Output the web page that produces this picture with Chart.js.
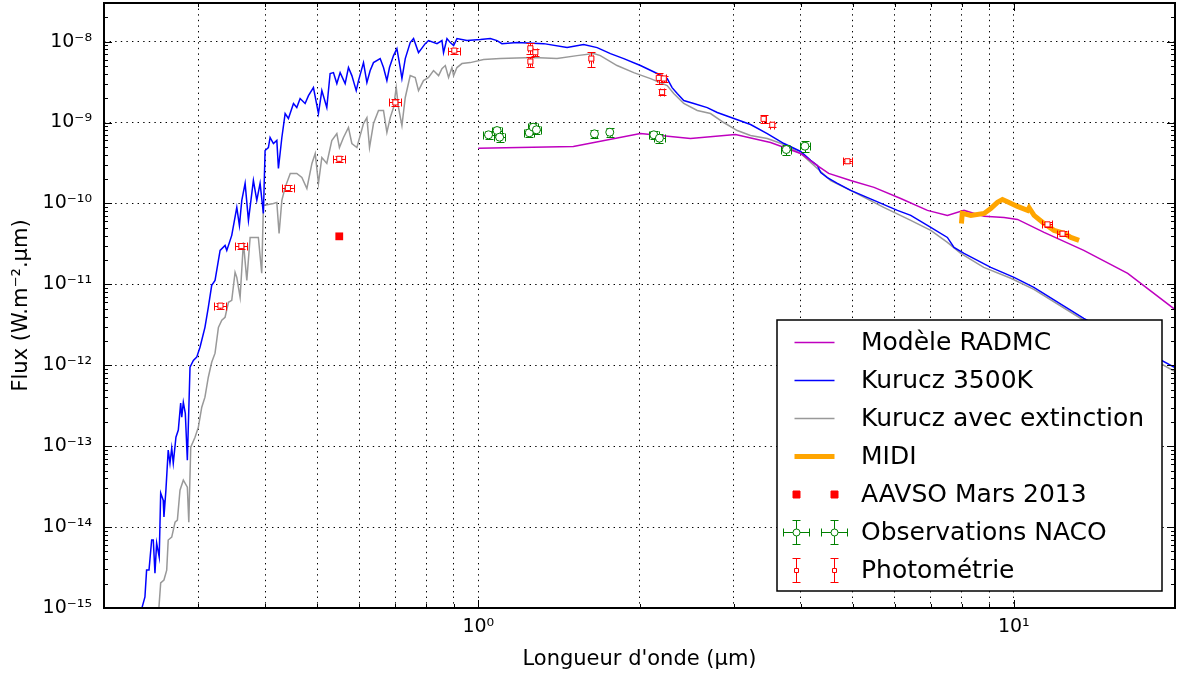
<!DOCTYPE html>
<html>
<head>
<meta charset="utf-8">
<script src="https://cdn.jsdelivr.net/npm/chart.js@4/dist/chart.umd.min.js"></script>
<style>
  html, body { margin: 0; padding: 0; background: #fff; }
</style>
</head>
<body>
<canvas id="sed" width="1177" height="675"></canvas>
<script>
// Kurucz 3500K (microns, W.m-2.um)
const kuruczLambda = [0.2335, 0.2385, 0.2402, 0.2427, 0.2455, 0.2472, 0.2490, 0.2508, 0.2536, 0.2552,
  0.2580, 0.2588, 0.2610, 0.2636, 0.2656, 0.2676, 0.2694, 0.2725, 0.2753, 0.2781,
  0.2794, 0.2813, 0.2837, 0.2862, 0.2895, 0.2937, 0.2980, 0.3022, 0.3087, 0.3132,
  0.3178, 0.3224, 0.3271, 0.3295, 0.3366, 0.3391, 0.3464, 0.3540, 0.3580, 0.3617,
  0.3669, 0.3722, 0.3802, 0.3858, 0.3913, 0.3969, 0.3998, 0.4055, 0.4085, 0.4144,
  0.4205, 0.4234, 0.4297, 0.4358, 0.4420, 0.4517, 0.4582, 0.4648, 0.4749, 0.4818,
  0.4922, 0.5029, 0.5103, 0.5213, 0.5288, 0.5364, 0.5443, 0.5521, 0.5641, 0.5722,
  0.5806, 0.5916, 0.5975, 0.6104, 0.6194, 0.6282, 0.6372, 0.6558, 0.6652, 0.6750,
  0.6826, 0.6945, 0.7047, 0.7148, 0.7201, 0.7305, 0.7462, 0.7570, 0.7733, 0.7960,
  0.8074, 0.8372, 0.8553, 0.8612, 0.8740, 0.8865, 0.8993, 0.9124, 0.9525, 1.009,
  1.053, 1.084, 1.107, 1.181, 1.325, 1.465, 1.573, 1.667, 1.765, 1.869,
  2.008, 2.158, 2.253, 2.301, 2.352, 2.419, 2.526, 2.676, 2.794, 3.001,
  3.224, 3.464, 3.722, 3.999, 4.175, 4.297, 4.359, 4.486, 4.683, 4.958,
  5.483, 6.062, 6.420, 6.997, 7.516, 7.733, 8.073, 9.057, 10.01, 10.90,
  13.51, 20.09];
const kuruczFlux = [8.2e-16, 1.37e-15, 2.94e-15, 2.94e-15, 6.92e-15, 6.92e-15, 2.70e-15, 6.34e-15, 4.26e-15, 2.63e-14,
  2.15e-14, 1.33e-14, 2.86e-14, 8.93e-14, 6.17e-14, 9.44e-14, 6.17e-14, 1.29e-13, 1.58e-13, 3.40e-13,
  2.28e-13, 3.49e-13, 2.55e-13, 6.71e-14, 9.44e-13, 1.15e-12, 1.26e-12, 1.67e-12, 2.94e-12, 5.20e-12,
  9.72e-12, 1.12e-11, 1.98e-11, 2.63e-11, 3.03e-11, 2.63e-11, 4.03e-11, 8.93e-11, 5.35e-11, 1.09e-10,
  1.77e-10, 6.17e-11, 1.92e-10, 1.09e-10, 1.77e-10, 7.53e-11, 4.51e-10, 4.91e-10, 6.53e-10, 5.50e-10,
  6.00e-10, 2.70e-10, 6.53e-10, 1.29e-9, 1.12e-9, 1.72e-9, 1.53e-9, 1.98e-9, 1.72e-9, 2.15e-9,
  2.70e-9, 1.29e-9, 2.48e-9, 1.53e-9, 4.03e-9, 4.14e-9, 3.03e-9, 4.14e-9, 3.03e-9, 4.78e-9,
  3.80e-9, 2.48e-9, 3.30e-9, 5.50e-9, 3.12e-9, 4.39e-9, 5.50e-9, 6.17e-9, 4.78e-9, 3.30e-9,
  4.78e-9, 6.71e-9, 8.20e-9, 4.78e-9, 3.49e-9, 6.17e-9, 9.72e-9, 1.09e-8, 7.31e-9, 9.44e-9,
  1.03e-8, 9.44e-9, 1.03e-8, 7.31e-9, 1.09e-8, 9.72e-9, 8.93e-9, 1.09e-8, 1.03e-8, 1.06e-8,
  1.09e-8, 1.03e-8, 9.44e-9, 9.72e-9, 9.44e-9, 8.43e-9, 9.18e-9, 8.43e-9, 7.11e-9, 6.17e-9,
  5.06e-9, 4.03e-9, 3.49e-9, 2.70e-9, 2.28e-9, 1.87e-9, 1.72e-9, 1.53e-9, 1.33e-9, 1.12e-9,
  9.44e-10, 7.31e-10, 5.50e-10, 4.39e-10, 3.40e-10, 2.94e-10, 2.41e-10, 2.09e-10, 1.77e-10, 1.45e-10,
  1.09e-10, 8.20e-11, 7.11e-11, 5.06e-11, 3.80e-11, 2.86e-11, 2.41e-11, 1.62e-11, 1.22e-11, 9.18e-12,
  3.80e-12, 9.18e-13];

// Kurucz avec extinction
const extLambda = [0.2527, 0.2552, 0.2588, 0.2619, 0.2636, 0.2676, 0.2715, 0.2742, 0.2773, 0.2813,
  0.2862, 0.2880, 0.2904, 0.2958, 0.3001, 0.3045, 0.3087, 0.3132, 0.3178, 0.3224,
  0.3271, 0.3319, 0.3366, 0.3415, 0.3464, 0.3514, 0.3540, 0.3591, 0.3642, 0.3696,
  0.3749, 0.3884, 0.3941, 0.3969, 0.4144, 0.4205, 0.4246, 0.4297, 0.4358, 0.4455,
  0.4582, 0.4683, 0.4785, 0.4890, 0.4960, 0.5029, 0.5103, 0.5213, 0.5326, 0.5443,
  0.5504, 0.5601, 0.5722, 0.5806, 0.5933, 0.6104, 0.6194, 0.6264, 0.6372, 0.6511,
  0.6652, 0.6750, 0.6848, 0.6945, 0.7026, 0.7096, 0.7201, 0.7305, 0.7462, 0.7624,
  0.7733, 0.7901, 0.8074, 0.8249, 0.8430, 0.8553, 0.8677, 0.8800, 0.8929, 0.8993,
  0.9124, 0.9322, 0.9661, 1.023, 1.099, 1.267, 1.403, 1.529, 1.643, 1.690,
  1.816, 1.951, 2.097, 2.253, 2.317, 2.419, 2.564, 2.714, 2.873, 3.045,
  3.224, 3.464, 3.722, 3.999, 4.297, 4.550, 4.958, 5.715, 6.420, 6.997,
  7.516, 7.960, 8.788, 9.872, 10.90, 13.51, 20.09];
const extFlux = [8.2e-16, 2.04e-15, 2.22e-15, 2.94e-15, 6.92e-15, 7.53e-15, 1.15e-14, 1.22e-14, 2.86e-14, 3.80e-14,
  3.12e-14, 1.15e-14, 9.72e-14, 1.29e-13, 1.72e-13, 3.03e-13, 4.03e-13, 7.11e-13, 1.09e-12, 1.41e-12,
  2.94e-12, 3.60e-12, 3.92e-12, 6.00e-12, 6.34e-12, 1.41e-11, 1.22e-11, 6.92e-12, 3.30e-11, 1.12e-11,
  3.80e-11, 3.80e-11, 1.37e-11, 9.44e-11, 1.00e-10, 1.03e-10, 4.26e-11, 1.09e-10, 1.58e-10, 2.35e-10,
  2.35e-10, 2.09e-10, 1.53e-10, 3.12e-10, 4.14e-10, 1.77e-10, 3.70e-10, 3.12e-10, 6.00e-10, 7.31e-10,
  4.91e-10, 6.53e-10, 8.67e-10, 5.50e-10, 4.91e-10, 9.72e-10, 1.15e-9, 4.91e-10, 9.72e-10, 1.41e-9,
  1.41e-9, 7.53e-10, 1.15e-9, 1.53e-9, 2.70e-9, 1.53e-9, 9.18e-10, 2.04e-9, 3.80e-9, 3.60e-9,
  2.48e-9, 3.30e-9, 3.60e-9, 4.39e-9, 3.80e-9, 4.64e-9, 5.06e-9, 3.60e-9, 4.78e-9, 3.80e-9,
  4.78e-9, 5.35e-9, 5.50e-9, 6.00e-9, 6.17e-9, 6.34e-9, 6.17e-9, 6.71e-9, 7.11e-9, 6.71e-9,
  5.06e-9, 4.14e-9, 3.49e-9, 2.86e-9, 2.28e-9, 1.72e-9, 1.41e-9, 1.29e-9, 1.00e-9, 7.96e-10,
  6.92e-10, 6.34e-10, 5.35e-10, 4.14e-10, 2.70e-10, 1.92e-10, 1.45e-10, 8.93e-11, 6.17e-11, 4.64e-11,
  3.30e-11, 2.41e-11, 1.62e-11, 1.19e-11, 8.67e-12, 3.60e-12, 8.20e-13];

// Modele RADMC
const radmcLambda = [1.0, 1.505, 2.008, 2.490, 3.022, 3.514, 3.999, 4.297, 4.511, 4.958, 5.483,
  6.149, 6.898, 7.516, 8.073, 8.801, 9.592, 10.16, 11.39, 13.51, 16.32, 20.09];
const radmcFlux = [4.8e-10, 5.06e-10, 7.31e-10, 6.34e-10, 7.11e-10, 5.66e-10, 4.14e-10, 2.94e-10, 2.35e-10, 1.92e-10, 1.58e-10,
  1.15e-10, 8.2e-11, 7.11e-11, 8.2e-11, 6.92e-11, 6.72e-11, 6.34e-11, 4.39e-11, 2.63e-11, 1.37e-11, 4.78e-12];

// MIDI
const midiLambda = [7.984, 8.012, 8.313, 8.801, 9.057, 9.323, 9.526, 9.799, 10.16, 10.61, 10.68,
  10.91, 11.39, 11.89, 12.42, 12.78, 13.24];
const midiFlux = [5.66e-11, 7.53e-11, 7.11e-11, 7.53e-11, 8.67e-11, 1.03e-10, 1.12e-10, 1.03e-10, 9.18e-11, 8.2e-11, 8.85e-11,
  7.11e-11, 5.66e-11, 4.64e-11, 4.26e-11, 3.80e-11, 3.49e-11];

// AAVSO Mars 2013
const aavsoLambda = [0.550];
const aavsoFlux = [3.92e-11];

// Observations NACO
const nacoLambda = [1.045, 1.084, 1.096, 1.245, 1.266, 1.284, 1.648, 1.760, 2.127, 2.179, 3.760, 4.073];
const nacoFlux = [7.05e-10, 7.96e-10, 6.59e-10, 7.46e-10, 8.75e-10, 8.13e-10, 7.25e-10, 7.59e-10, 7.05e-10, 6.40e-10, 4.64e-10, 5.10e-10];
const nacoFluxErr = [0.85e-10, 0.95e-10, 0.8e-10, 0.9e-10, 1.05e-10, 1.0e-10, 0.9e-10, 0.9e-10, 0.85e-10, 0.8e-10, 0.7e-10, 0.75e-10];
const nacoLambdaErr = [0.023, 0.024, 0.024, 0.027, 0.028, 0.028, 0.02, 0.02, 0.047, 0.048, 0.083, 0.09];

// Photometrie
const photLambda = [0.330, 0.361, 0.441, 0.550, 0.700, 0.902, 1.251, 1.278, 1.251, 1.626,
  2.173, 2.220, 2.204, 3.410, 3.540, 4.890, 11.56, 12.33];
const photFlux = [5.46e-12, 2.97e-11, 1.55e-10, 3.56e-10, 1.77e-9, 7.74e-9, 8.27e-9, 7.38e-9, 5.67e-9, 6.17e-9,
  3.56e-9, 3.50e-9, 2.37e-9, 1.11e-9, 9.37e-10, 3.32e-10, 5.51e-11, 4.23e-11];
const photFluxErr = [0.49e-12, 2.7e-12, 1.4e-11, 3.2e-11, 1.6e-10, 7.0e-10, 1.25e-9, 0.66e-9, 0.85e-9, 1.35e-9,
  0.53e-9, 0.3e-9, 0.2e-9, 0.13e-9, 0.5e-10, 0.2e-10, 0.35e-11, 0.27e-11];
const photLambdaErr = [0.0086, 0.0094, 0.0115, 0.0143, 0.0182, 0.0235, 0.011, 0.011, 0.011, 0.015,
  0.02, 0.02, 0.02, 0.03, 0.032, 0.1, 0.25, 0.27];

const toPoints = (xs, ys) => xs.map((x, i) => ({x: x, y: ys[i]}));

const SUP = {'-': '\u207B', '0': '\u2070', '1': '\u00B9', '2': '\u00B2', '3': '\u00B3', '4': '\u2074',
  '5': '\u2075', '6': '\u2076', '7': '\u2077', '8': '\u2078', '9': '\u2079'};
function isDecade(v) {
  const l = Math.log10(v);
  return Math.abs(l - Math.round(l)) < 1e-6;
}
function powLabel(v) {
  const e = String(Math.round(Math.log10(v)));
  return '10' + e.split('').map(ch => SUP[ch]).join('');
}
function logTicks(min, max) {
  const out = [];
  for (let e = Math.floor(Math.log10(min)); e <= Math.ceil(Math.log10(max)); e++) {
    for (let m = 1; m < 10; m++) {
      const v = m * Math.pow(10, e);
      if (v >= min * 0.999 && v <= max * 1.001) out.push({value: v});
    }
  }
  return out;
}
const snap = v => Math.round(v) + 0.5;

// error bars drawn under the markers
const errorBars = {
  id: 'errorBars',
  beforeDatasetDraw(chart, args) {
    const ds = chart.data.datasets[args.index];
    if (!ds.errY && !ds.errX) return;
    const xs = chart.scales.x, ys = chart.scales.y, c = chart.ctx;
    const cap = ds.capSize;
    c.save();
    c.strokeStyle = ds.borderColor;
    c.lineWidth = 1;
    c.beginPath();
    ds.data.forEach((p, i) => {
      const px = snap(xs.getPixelForValue(p.x)), py = snap(ys.getPixelForValue(p.y));
      if (ds.errY) {
        const y0 = snap(ys.getPixelForValue(p.y - ds.errY[i])), y1 = snap(ys.getPixelForValue(p.y + ds.errY[i]));
        c.moveTo(px, y0); c.lineTo(px, y1);
        c.moveTo(px - cap, y0); c.lineTo(px + cap, y0);
        c.moveTo(px - cap, y1); c.lineTo(px + cap, y1);
      }
      if (ds.errX) {
        const x0 = snap(xs.getPixelForValue(p.x - ds.errX[i])), x1 = snap(xs.getPixelForValue(p.x + ds.errX[i]));
        c.moveTo(x0, py); c.lineTo(x1, py);
        c.moveTo(x0, py - cap); c.lineTo(x0, py + cap);
        c.moveTo(x1, py - cap); c.lineTo(x1, py + cap);
      }
    });
    c.stroke();
    c.restore();
  }
};

// frame with inward ticks on all four sides
const frame = {
  id: 'frame',
  afterDraw(chart) {
    const a = chart.chartArea, c = chart.ctx;
    c.save();
    c.strokeStyle = '#000';
    c.lineWidth = 1;
    c.beginPath();
    chart.scales.x.ticks.forEach(t => {
      const px = snap(chart.scales.x.getPixelForValue(t.value));
      const len = isDecade(t.value) ? 8 : 4;
      c.moveTo(px, a.bottom); c.lineTo(px, a.bottom - len);
      c.moveTo(px, a.top); c.lineTo(px, a.top + len);
    });
    chart.scales.y.ticks.forEach(t => {
      const py = snap(chart.scales.y.getPixelForValue(t.value));
      const len = isDecade(t.value) ? 8 : 4;
      c.moveTo(a.left, py); c.lineTo(a.left + len, py);
      c.moveTo(a.right, py); c.lineTo(a.right - len, py);
    });
    c.stroke();
    c.lineWidth = 2;
    c.strokeRect(a.left, a.top, a.right - a.left, a.bottom - a.top);
    c.restore();
  }
};

// legend box inside the plot, lower right
const boxLegend = {
  id: 'boxLegend',
  afterDraw(chart) {
    const a = chart.chartArea, c = chart.ctx;
    const w = 385, h = 271, rowH = 38;
    const left = Math.round(a.right - 13 - w), top = Math.round(a.bottom - 17 - h);
    c.save();
    c.fillStyle = '#fff';
    c.fillRect(left, top, w, h);
    c.strokeStyle = '#000';
    c.lineWidth = 1.5;
    c.strokeRect(left, top, w, h);
    const items = chart.data.datasets.filter(d => d.legendRank !== undefined)
      .sort((p, q) => p.legendRank - q.legendRank);
    items.forEach((ds, k) => {
      const y = top + 22 + k * rowH + 0.5;
      const xa = left + 19.5, xb = left + 57.5;
      c.strokeStyle = ds.borderColor;
      if (ds.showLine !== false) {
        c.lineWidth = ds.borderWidth;
        c.beginPath(); c.moveTo(xa - 2, y); c.lineTo(xb, y); c.stroke();
      } else {
        [xa, xb].forEach(x => {
          c.lineWidth = 1;
          c.beginPath();
          if (ds.errY) {
            c.moveTo(x, y - 12); c.lineTo(x, y + 12);
            c.moveTo(x - 4, y - 12); c.lineTo(x + 4, y - 12);
            c.moveTo(x - 4, y + 12); c.lineTo(x + 4, y + 12);
          }
          if (ds.legendErrX) {
            c.moveTo(x - 13, y); c.lineTo(x + 13, y);
            c.moveTo(x - 13, y - 4); c.lineTo(x - 13, y + 4);
            c.moveTo(x + 13, y - 4); c.lineTo(x + 13, y + 4);
          }
          c.stroke();
          c.fillStyle = ds.pointBackgroundColor;
          c.beginPath();
          if (ds.pointStyle === 'circle') {
            c.arc(x, y, 3.5, 0, Math.PI * 2);
          } else {
            const s = ds.errY ? 2 : 3.5;
            c.rect(x - s, y - s, 2 * s, 2 * s);
          }
          c.fill();
          c.stroke();
        });
      }
      c.fillStyle = '#000';
      c.font = '25px "DejaVu Sans"';
      c.textBaseline = 'middle';
      c.textAlign = 'left';
      c.fillText(ds.label, left + 84, y + 1);
    });
    c.restore();
  }
};

const tickFont = {family: 'DejaVu Sans', size: 19};

new Chart(document.getElementById('sed').getContext('2d'), {
  type: 'line',
  data: {
    datasets: [
      {
        label: 'Photométrie', legendRank: 6, order: 0,
        data: toPoints(photLambda, photFlux), errY: photFluxErr, errX: photLambdaErr, capSize: 4,
        showLine: false, pointStyle: 'rect', pointRadius: 3.6,
        borderColor: '#ff0000', pointBorderColor: '#ff0000', pointBackgroundColor: '#ffffff', pointBorderWidth: 1
      },
      {
        label: 'Observations NACO', legendRank: 5, order: 1, legendErrX: true,
        data: toPoints(nacoLambda, nacoFlux), errY: nacoFluxErr, errX: nacoLambdaErr, capSize: 4,
        showLine: false, pointStyle: 'circle', pointRadius: 4,
        borderColor: '#008000', pointBorderColor: '#008000', pointBackgroundColor: '#ffffff', pointBorderWidth: 1
      },
      {
        label: 'AAVSO Mars 2013', legendRank: 4, order: 2,
        data: toPoints(aavsoLambda, aavsoFlux),
        showLine: false, pointStyle: 'rect', pointRadius: 5.5,
        borderColor: '#ff0000', pointBorderColor: '#ff0000', pointBackgroundColor: '#ff0000', pointBorderWidth: 0
      },
      {
        label: 'MIDI', legendRank: 3, order: 3,
        data: toPoints(midiLambda, midiFlux),
        borderColor: '#ffa500', borderWidth: 5, pointRadius: 0
      },
      {
        label: 'Modèle RADMC', legendRank: 0, order: 4,
        data: toPoints(radmcLambda, radmcFlux),
        borderColor: '#bf00bf', borderWidth: 1.5, pointRadius: 0
      },
      {
        label: 'Kurucz 3500K', legendRank: 1, order: 5,
        data: toPoints(kuruczLambda, kuruczFlux),
        borderColor: '#0000ff', borderWidth: 1.5, pointRadius: 0
      },
      {
        label: 'Kurucz avec extinction', legendRank: 2, order: 6,
        data: toPoints(extLambda, extFlux),
        borderColor: '#999999', borderWidth: 1.5, pointRadius: 0
      }
    ]
  },
  options: {
    responsive: false,
    animation: false,
    devicePixelRatio: 1,
    layout: {padding: {top: 3, right: 2, left: 0, bottom: 0}, autoPadding: false},
    plugins: {legend: {display: false}, tooltip: {enabled: false}},
    elements: {line: {tension: 0}},
    scales: {
      x: {
        type: 'logarithmic', min: 0.2, max: 20,
        afterBuildTicks: s => { s.ticks = logTicks(0.2, 20); },
        afterFit: s => { s.height = 67; s.paddingLeft = 0; s.paddingRight = 0; },
        ticks: {autoSkip: false, maxRotation: 0, padding: 8, color: '#000', font: tickFont,
          callback: v => isDecade(v) ? powLabel(v) : ''},
        grid: {color: '#000', lineWidth: 1, drawTicks: false},
        border: {display: false, dash: [1.4, 4.2]},
        title: {display: true, text: 'Longueur d\'onde (μm)', color: '#000',
          font: {family: 'DejaVu Sans', size: 21}, padding: {top: 0, bottom: 3}}
      },
      y: {
        type: 'logarithmic', min: 1e-15, max: 3e-8,
        afterBuildTicks: s => { s.ticks = logTicks(1e-15, 3e-8); },
        afterFit: s => { s.width = 104; s.paddingTop = 0; s.paddingBottom = 0; },
        ticks: {autoSkip: false, padding: 12, color: '#000', font: tickFont,
          callback: v => isDecade(v) ? powLabel(v) : ''},
        grid: {color: c => (c.tick && isDecade(c.tick.value)) ? '#000' : 'rgba(0,0,0,0)', lineWidth: 1, drawTicks: false},
        border: {display: false, dash: [1.4, 4.2]},
        title: {display: true, text: 'Flux (W.m⁻².μm)', color: '#000',
          font: {family: 'DejaVu Sans', size: 21}, padding: {top: 9, bottom: 0}}
      }
    }
  },
  plugins: [errorBars, frame, boxLegend]
});
</script>
</body>
</html>
